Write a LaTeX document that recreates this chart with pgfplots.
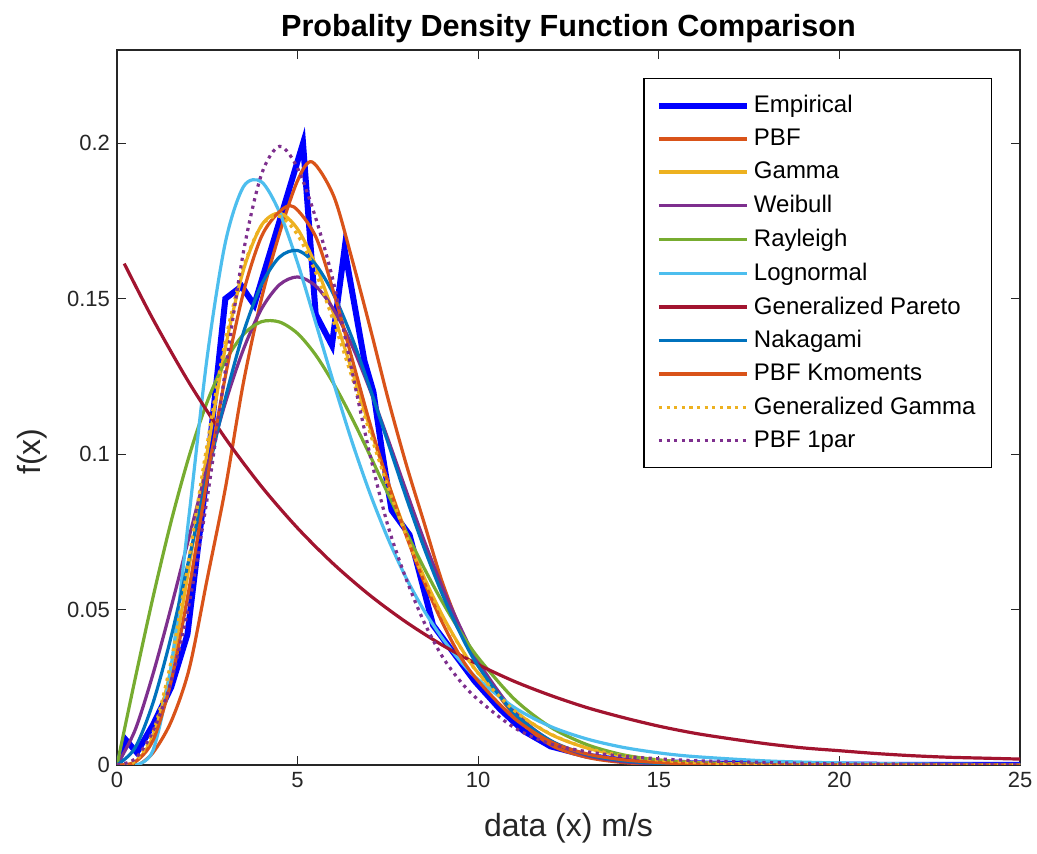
\documentclass[border=0pt]{standalone}
\usepackage{pgfplots}
\pgfplotsset{compat=1.18}
\usepackage{fontspec}
\setmainfont{Liberation Sans}
\definecolor{mB}{rgb}{0,0.447,0.741}
\definecolor{mO}{rgb}{0.850,0.325,0.098}
\definecolor{mY}{rgb}{0.929,0.694,0.125}
\definecolor{mP}{rgb}{0.494,0.184,0.556}
\definecolor{mG}{rgb}{0.466,0.674,0.188}
\definecolor{mC}{rgb}{0.301,0.745,0.933}
\definecolor{mR}{rgb}{0.635,0.078,0.184}
\definecolor{axgray}{rgb}{0.15,0.15,0.15}
\begin{document}
\begin{tikzpicture}
\begin{axis}[
  scale only axis,
  width=451.5pt, height=357.5pt,
  xmin=0, xmax=25, ymin=0, ymax=0.23,
  xtick={0,5,10,15,20,25},
  ytick={0,0.05,0.1,0.15,0.2},
  yticklabels={0,0.05,0.1,0.15,0.2},
  /pgf/number format/assume math mode=true,
  tick align=inside,
  major tick length=4.5pt,
  axis line style={axgray, line width=0.6pt},
  every tick/.style={axgray, line width=0.6pt},
  tick label style={font=\fontsize{11}{13}\selectfont, text=axgray},
  title={\bfseries Probality Density Function Comparison},
  title style={font=\fontsize{15.3}{18}\selectfont, yshift=-6pt},
  xlabel={data (x) m/s},
  ylabel={f(x)},
  label style={font=\fontsize{16}{19}\selectfont, text=axgray},
  xlabel style={yshift=-6pt},
  ylabel style={yshift=3pt, xshift=-22pt},
  legend cell align=left,
  legend style={at={(rel axis cs:0.969,0.961)}, anchor=north east,
    font=\fontsize{12}{14.5}\selectfont, draw=black, line width=0.6pt,
    row sep=2.7pt, inner xsep=6pt, inner ysep=6.5pt,
    nodes={inner xsep=2pt}},
  legend image code/.code={\draw[#1] (0pt,0pt) -- (44pt,0pt);},
  every axis plot/.append style={line width=1.6pt},
]
% Empirical
\addplot[color=blue, line width=3pt] coordinates {
(0,0) (0.25,0.008) (0.55,0.004) (1.0,0.013) (1.5,0.025) (1.95,0.042) (2.45,0.090)
(3.0,0.150) (3.45,0.154) (3.8,0.148) (5.15,0.200) (5.5,0.145) (5.95,0.135) (6.3,0.166)
(6.85,0.130) (7.1,0.120) (7.35,0.100) (7.6,0.082) (8.1,0.074) (8.75,0.045) (9.9,0.027)
(10.6,0.018) (11.25,0.011) (12,0.006) (13,0.003) (14,0.0015) (16,0.0005) (20,0.0001) (25,0)};
\addlegendentry{Empirical}
% PBF
\addplot[color=mO, smooth] coordinates {
(0.6,0) (1.0,0.004) (1.5,0.014) (2.0,0.031) (2.5,0.060) (3.0,0.089) (3.5,0.123) (4.0,0.150)
(4.5,0.171) (5.0,0.188) (5.4,0.194) (6.0,0.183) (6.5,0.163) (7.0,0.141) (7.5,0.118)
(8.0,0.097) (8.5,0.078) (9.0,0.059) (9.5,0.044) (10,0.032) (11,0.016) (12,0.0065)
(13,0.0025) (14,0.0008) (15,0.0002) (16,0) (25,0)};
\addlegendentry{PBF}
% Gamma
\addplot[color=mY, smooth] coordinates {
(0,0) (0.5,0.0009) (1,0.0094) (1.5,0.0313) (2,0.0640) (2.5,0.1008) (3,0.1342) (3.5,0.1592)
(4,0.1736) (4.5,0.1775) (5,0.1724) (5.5,0.1608) (6,0.1450) (6.5,0.1270) (7,0.1086)
(7.5,0.0910) (8,0.0748) (8.5,0.0605) (9,0.0483) (9.5,0.0381) (10,0.0296) (11,0.0175)
(12,0.0099) (13,0.0055) (14,0.0030) (15,0.0016) (16,0.0008) (18,0.0002) (20,0.00005) (25,0)};
\addlegendentry{Gamma}
% Weibull
\addplot[color=mP, smooth] coordinates {
(0,0) (0.5,0.0112) (1,0.0294) (1.5,0.0508) (2,0.0735) (2.5,0.0959) (3,0.1165) (3.5,0.1337)
(4,0.1467) (4.5,0.1545) (5,0.1570) (5.5,0.1541) (6,0.1465) (6.5,0.1351) (7,0.1208)
(7.5,0.1049) (8,0.0884) (8.5,0.0723) (9,0.0574) (9.5,0.0444) (10,0.0332) (11,0.0171)
(12,0.0078) (13,0.0031) (14,0.0011) (15,0.00035) (16,0.0001) (18,0) (25,0)};
\addlegendentry{Weibull}
% Rayleigh
\addplot[color=mG, smooth] coordinates {
(0,0) (0.5,0.0276) (1,0.0541) (1.5,0.0784) (2,0.0995) (2.5,0.1169) (3,0.1299) (3.5,0.1385)
(4,0.1426) (4.5,0.1425) (5,0.1388) (5.5,0.1319) (6,0.1226) (6.5,0.1117) (7,0.0997)
(7.5,0.0873) (8,0.0751) (8.5,0.0634) (9,0.0526) (9.5,0.0430) (10,0.0345) (11,0.0212)
(12,0.0122) (13,0.0066) (14,0.0033) (15,0.0016) (16,0.0007) (18,0.0001) (20,0) (25,0)};
\addlegendentry{Rayleigh}
% Lognormal
\addplot[color=mC, smooth] coordinates {
(0.5,0) (1,0.0048) (1.5,0.0319) (2,0.0808) (2.5,0.1315) (3,0.1681) (3.5,0.1860) (4,0.1876)
(4.5,0.1778) (5,0.1615) (5.5,0.1423) (6,0.1228) (6.5,0.1042) (7,0.0875) (7.5,0.0729)
(8,0.0603) (8.5,0.0497) (9,0.0409) (9.5,0.0335) (10,0.0275) (11,0.0185) (12,0.0124)
(13,0.0084) (14,0.0057) (15,0.0039) (16,0.0027) (18,0.0013) (20,0.00065) (22,0.00033) (25,0.00013)};
\addlegendentry{Lognormal}
% Generalized Pareto
\addplot[color=mR, smooth] coordinates {
(0.2,0.1613) (1,0.1433) (2,0.1229) (3,0.1051) (4,0.0896) (5,0.0762) (6,0.0646) (7,0.0546)
(8,0.0460) (9,0.0386) (10,0.0323) (11,0.0269) (12,0.0224) (13,0.0185) (14,0.0153)
(15,0.0125) (16,0.0102) (17,0.0084) (18,0.0068) (19,0.0055) (20,0.0046) (21,0.0037)
(22,0.0030) (23,0.0025) (24,0.0022) (25,0.0019)};
\addlegendentry{Generalized Pareto}
% Nakagami
\addplot[color=mB, smooth] coordinates {
(0,0) (0.5,0.0055) (1,0.0201) (1.5,0.0413) (2,0.0666) (2.5,0.0930) (3,0.1180) (3.5,0.1391)
(4,0.1545) (4.5,0.1634) (5,0.1655) (5.5,0.1610) (6,0.1513) (6.5,0.1376) (7,0.1213)
(7.5,0.1038) (8,0.0863) (8.5,0.0699) (9,0.0551) (9.5,0.0424) (10,0.0318) (11,0.0166)
(12,0.0079) (13,0.0034) (14,0.0014) (15,0.0005) (16,0.0002) (18,0) (25,0)};
\addlegendentry{Nakagami}
% PBF Kmoments
\addplot[color=mO, smooth] coordinates {
(0,0) (0.5,0.001) (1,0.008) (1.5,0.027) (2,0.057) (2.5,0.092) (3,0.125) (3.5,0.152)
(4,0.170) (4.5,0.178) (4.9,0.1795) (5.5,0.170) (6,0.152) (6.5,0.131) (7,0.110)
(7.5,0.091) (8,0.074) (8.5,0.059) (9,0.046) (9.5,0.035) (10,0.027) (11,0.015)
(12,0.0075) (13,0.0036) (14,0.0017) (15,0.0008) (16,0.0003) (18,0) (25,0)};
\addlegendentry{PBF Kmoments}
% Generalized Gamma
\addplot[color=mY, smooth, dash pattern=on 1.6pt off 2.2pt] coordinates {
(0,0) (0.5,0.0012) (1,0.0105) (1.5,0.0335) (2,0.0670) (2.5,0.1035) (3,0.1365) (3.5,0.1600)
(4,0.1735) (4.5,0.1765) (5,0.1705) (5.5,0.1585) (6,0.1425) (6.5,0.1250) (7,0.1070)
(7.5,0.0895) (8,0.0740) (8.5,0.0600) (9,0.0480) (9.5,0.0380) (10,0.0295) (11,0.0175)
(12,0.0100) (13,0.0055) (14,0.0030) (15,0.0016) (16,0.0008) (18,0.0002) (20,0.00005) (25,0)};
\addlegendentry{Generalized Gamma}
% PBF 1par
\addplot[color=mP, smooth, dash pattern=on 1.6pt off 2.2pt] coordinates {
(0,0) (0.5,0.002) (1,0.011) (1.5,0.027) (2,0.052) (2.5,0.086) (3,0.127) (3.5,0.165)
(4,0.190) (4.5,0.199) (5,0.192) (5.5,0.176) (6,0.155) (6.5,0.127) (7,0.100)
(7.5,0.077) (8,0.060) (8.5,0.046) (9,0.035) (9.5,0.027) (10,0.021) (11,0.012)
(12,0.0068) (13,0.0043) (14,0.0028) (15,0.0020) (16,0.0014) (18,0.0008) (20,0.0004) (25,0.0001)};
\addlegendentry{PBF 1par}
\coordinate (bl) at (rel axis cs:0,0);
\coordinate (tr) at (rel axis cs:1,1);
\end{axis}
\pgfresetboundingbox
\path ([shift={(-58.5pt,-44.5pt)}]bl) rectangle ([shift={(8.5pt,25pt)}]tr);
\end{tikzpicture}
\end{document}
